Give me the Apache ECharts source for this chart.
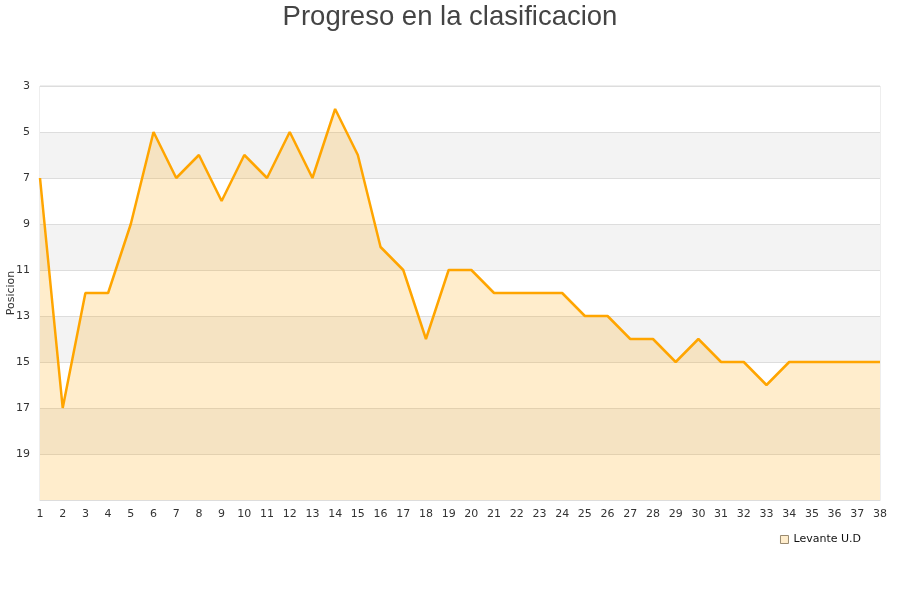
<!DOCTYPE html>
<html><head><meta charset="utf-8">
<script src="https://cdn.jsdelivr.net/npm/echarts@6/dist/echarts.min.js"></script>
<style>html,body{margin:0;padding:0;background:#fff}#c{width:900px;height:600px}</style>
</head><body><div id="c"></div>
<script>
const jornadas = ['1','2','3','4','5','6','7','8','9','10','11','12','13','14','15','16','17','18','19','20','21','22','23','24','25','26','27','28','29','30','31','32','33','34','35','36','37','38'];
const posiciones = [7,17,12,12,9,5,7,6,8,6,7,5,7,4,6,10,11,14,11,11,12,12,12,12,13,13,14,14,15,14,15,15,16,15,15,15,15,15];
const equipo = 'Levante U.D';
const titulo = 'Progreso en la clasificacion';
const posMin = 3, posMax = 21, posStep = 2;
// axis ticks start from a multiple of the interval, so the axis runs on (position - 1)
const shift = 1;
const chart = echarts.init(document.getElementById('c'));
chart.setOption({
  animation: false,
  textStyle: {fontFamily: 'DejaVu Sans'},
  title: {text: titulo, left: 'center', top: -2, textStyle: {fontFamily: 'Liberation Sans', fontSize: 27.5, fontWeight: 'normal', color: '#444'}},
  grid: {left: 40, right: 20, top: 86, bottom: 100, show: true, borderColor: '#ddd', borderWidth: 1, outerBoundsMode: 'none', containLabel: false},
  legend: {right: 34, top: 529, icon: 'rect', itemWidth: 8, itemHeight: 8, itemGap: 6,
    textStyle: {fontSize: 11, color: '#111'},
    data: [{name: equipo, itemStyle: {color: '#FFEDCC', borderColor: '#9a8a70', borderWidth: 1}}]},
  xAxis: {type: 'category', data: jornadas, boundaryGap: false,
    axisLine: {lineStyle: {color: '#ddd'}}, axisTick: {show: false},
    axisLabel: {interval: 0, fontSize: 11, color: '#333', margin: 9}},
  yAxis: {type: 'value', inverse: true, min: posMin - shift, max: posMax - shift, interval: posStep,
    name: 'Posicion', nameLocation: 'middle', nameGap: 23, nameMoveOverlap: false, nameTextStyle: {fontSize: 11, color: '#333'},
    axisLine: {show: false}, axisTick: {show: false},
    axisLabel: {fontSize: 11, color: '#333', margin: 10, formatter: v => (v + shift >= posMax ? '' : String(v + shift))},
    splitLine: {lineStyle: {color: '#ddd'}},
    splitArea: {show: true, areaStyle: {color: ['#ffffff', '#f3f3f3']}}},
  series: [{name: equipo, type: 'line', data: posiciones.map(p => p - shift),
    showSymbol: false, symbol: 'none',
    lineStyle: {color: '#FFA500', width: 2.5},
    itemStyle: {color: '#FFA500'},
    areaStyle: {color: 'rgba(255,165,0,0.2)', opacity: 1, origin: 'end'}}]
});
</script></body></html>
